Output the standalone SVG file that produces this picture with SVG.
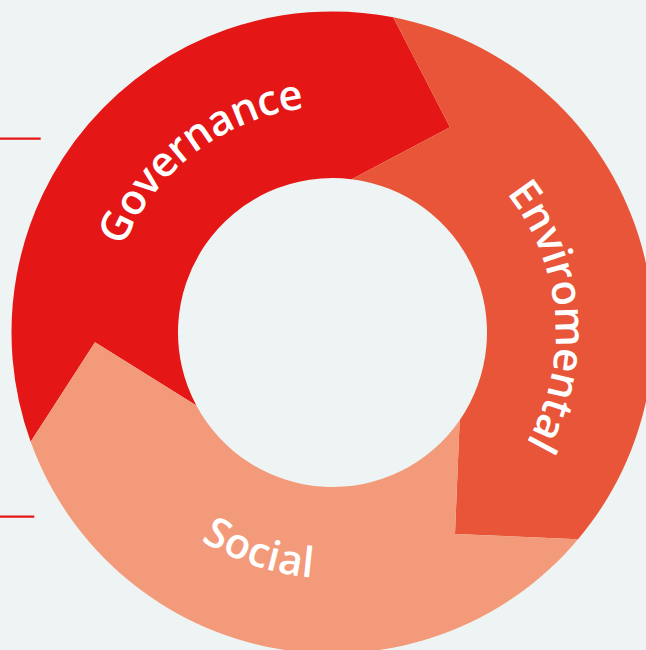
<svg xmlns="http://www.w3.org/2000/svg" width="646" height="650" viewBox="0 0 646 650">
  <style>
    .lbl { font-family: "Open Sans", "Noto Sans", "DejaVu Sans", sans-serif; font-weight: 600; font-size: 42px; fill: #FFFFFF; letter-spacing: 0.3px; }
    .tight { letter-spacing: -0.5px; }
    .gov { fill: #E41616; }
    .env { fill: #E95539; }
    .soc { fill: #F39A7A; }
    .tick { stroke: #E41616; stroke-width: 2.3; fill: none; }
  </style>
  <defs>
    <path id="pGov" d="M108.43,362.0 A226,226 0 0 1 418.99,123.70"/>
    <path id="pEnv" d="M428.50,131.22 A223,223 0 0 1 458.81,516.28"/>
    <path id="pSoc" d="M91.44,381.55 A246,246 0 0 0 495.50,516.74"/>
  </defs>
  <rect x="0" y="0" width="646" height="650" fill="#EEF4F3"/>

  <g id="connectors">
    <line class="tick" x1="0" y1="138.7" x2="40.7" y2="138.7"/>
    <line class="tick" x1="0" y1="516.7" x2="34.3" y2="516.7"/>
  </g>

  <g id="governance">
    <path class="gov" d="M30.67,441.76 A321,321 0 0 1 393.20,17.29 L450,127.3 L351.60,179.19 A154.5,154.5 0 0 0 196.34,405.51 L95,342.3 Z"/>
    <text class="lbl tight"><textPath href="#pGov" startOffset="50%" text-anchor="middle">Governance</textPath></text>
  </g>

  <g id="environmental">
    <path class="env" d="M393.20,17.29 A321,321 0 0 1 578.04,539.26 L455,534 L459.68,420.23 A154.5,154.5 0 0 0 351.60,179.19 L450,127.3 Z"/>
    <text class="lbl tight"><textPath href="#pEnv" startOffset="50%" text-anchor="middle">Enviromental</textPath></text>
  </g>

  <g id="social">
    <path class="soc" d="M578.04,539.26 A321,321 0 0 1 30.67,441.76 L95,342.3 L196.34,405.51 A154.5,154.5 0 0 0 459.68,420.23 L455,534 Z"/>
    <text class="lbl"><textPath href="#pSoc" startOffset="50%" text-anchor="middle">Social</textPath></text>
  </g>
</svg>
